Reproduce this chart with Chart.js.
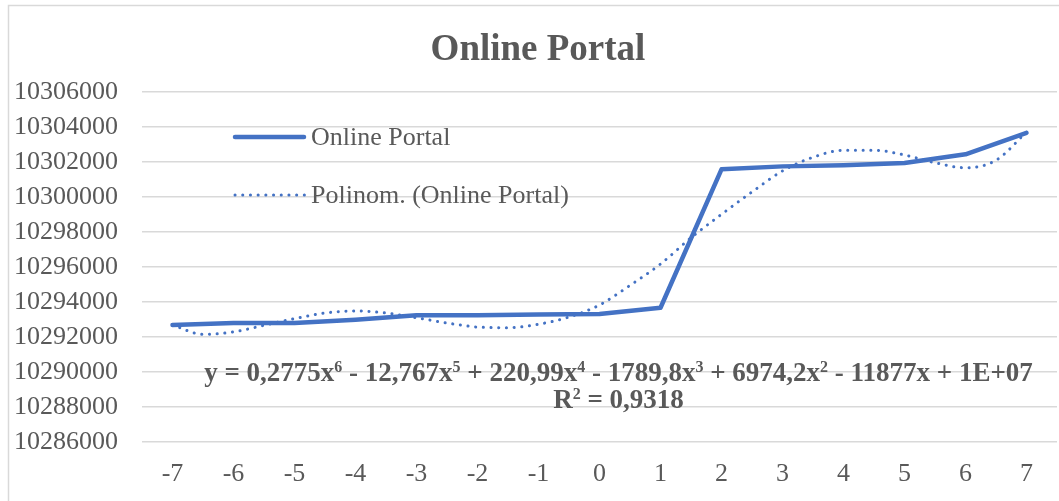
<!DOCTYPE html>
<html>
<head>
<meta charset="utf-8">
<script src="https://cdn.jsdelivr.net/npm/chart.js@4/dist/chart.umd.min.js"></script>
<style>
html,body{margin:0;padding:0;background:#fff;}
#wrap{width:1059px;height:501px;position:relative;}
</style>
</head>
<body>
<div id="wrap"><canvas id="c" width="1059" height="501"></canvas></div>
<script>
// ---- data ----
const categories = ['-7','-6','-5','-4','-3','-2','-1','0','1','2','3','4','5','6','7'];
const portalValues = [10292690, 10292800, 10292800, 10292990, 10293240, 10293250, 10293280, 10293320, 10293670, 10301580, 10301750, 10301810, 10301940, 10302440, 10303670];
const trendX = [-7, -6.5, -6, -5.5, -5, -4.5, -4, -3.5, -3, -2.5, -2, -1.5, -1, -0.5, 0, 0.5, 1, 1.5, 2, 2.5, 3, 3.5, 4, 4.5, 5, 5.5, 6, 6.5, 7];
const trendY = [10292690, 10292150, 10292290, 10292670, 10293050, 10293370, 10293490, 10293370, 10293100, 10292800, 10292570, 10292530, 10292730, 10293140, 10293830, 10294950, 10296170, 10297670, 10299010, 10300290, 10301490, 10302270, 10302670, 10302670, 10302400, 10301960, 10301670, 10302100, 10303710];
const yTicks = [10286000, 10288000, 10290000, 10292000, 10294000, 10296000, 10298000, 10300000, 10302000, 10304000, 10306000];
const chartTitle = 'Online Portal';
const seriesName = 'Online Portal';
const trendName = 'Polinom. (Online Portal)';
const equationParts = [['y = 0,2775x',''],['6','sup'],[' - 12,767x',''],['5','sup'],[' + 220,99x',''],['4','sup'],[' - 1789,8x',''],['3','sup'],[' + 6974,2x',''],['2','sup'],[' - 11877x + 1E+07','']];
const r2Parts = [['R',''],['2','sup'],[' = 0,9318','']];

const BLUE = '#4472C4';
const TXT = '#595959';
const GRID = '#d9d9d9';
const FONT = '"Liberation Serif", "Times New Roman", serif';

const decor = {
  id: 'decor',
  beforeDraw(chart) {
    const ctx = chart.ctx;
    ctx.save();
    ctx.fillStyle = '#fff';
    ctx.fillRect(0, 0, chart.width, chart.height);
    ctx.strokeStyle = GRID;
    ctx.lineWidth = 1.5;
    ctx.strokeRect(8.5, 5.5, 1200, 700);
    ctx.restore();
  },
  afterDraw(chart) {
    const ctx = chart.ctx;
    ctx.save();
    // title
    ctx.fillStyle = TXT;
    ctx.font = 'bold 37px ' + FONT;
    ctx.textAlign = 'center';
    ctx.textBaseline = 'alphabetic';
    ctx.fillText(chartTitle, 538, 60);
    // legend
    ctx.strokeStyle = BLUE;
    ctx.lineCap = 'round';
    ctx.lineWidth = 4.5;
    ctx.beginPath(); ctx.moveTo(235, 137); ctx.lineTo(304, 137); ctx.stroke();
    ctx.lineWidth = 3;
    ctx.setLineDash([0.1, 7.6]);
    ctx.beginPath(); ctx.moveTo(235, 195); ctx.lineTo(305, 195); ctx.stroke();
    ctx.setLineDash([]);
    ctx.font = '26px ' + FONT;
    ctx.textAlign = 'left';
    ctx.textBaseline = 'middle';
    ctx.fillText(seriesName, 311, 138);
    ctx.fillText(trendName, 311, 196);
    // equation
    drawRich(ctx, equationParts, 618.5, 381, 27);
    drawRich(ctx, r2Parts, 618.5, 408, 27);
    ctx.restore();
  }
};

function drawRich(ctx, parts, cx, baseY, size) {
  const big = 'bold ' + size + 'px ' + FONT;
  const small = 'bold ' + Math.round(size * 0.6) + 'px ' + FONT;
  let total = 0;
  const widths = parts.map(p => { ctx.font = p[1] === 'sup' ? small : big; const w = ctx.measureText(p[0]).width; total += w; return w; });
  let x = cx - total / 2;
  ctx.textAlign = 'left';
  ctx.textBaseline = 'alphabetic';
  ctx.fillStyle = TXT;
  parts.forEach((p, i) => {
    ctx.font = p[1] === 'sup' ? small : big;
    ctx.fillText(p[0], x, p[1] === 'sup' ? baseY - size * 0.32 : baseY);
    x += widths[i];
  });
}

new Chart(document.getElementById('c'), {
  type: 'line',
  data: {
    labels: categories,
    datasets: [
      {
        label: seriesName,
        data: portalValues,
        xAxisID: 'x',
        borderColor: BLUE,
        backgroundColor: BLUE,
        borderWidth: 4.5,
        pointRadius: 0,
        tension: 0,
        borderJoinStyle: 'round',
        borderCapStyle: 'round',
        order: 2
      },
      {
        label: trendName,
        data: trendX.map((x, i) => ({x: x, y: trendY[i]})),
        xAxisID: 'x2',
        borderColor: BLUE,
        borderWidth: 3,
        borderDash: [0.1, 7.6],
        borderCapStyle: 'round',
        pointRadius: 0,
        tension: 0.4,
        cubicInterpolationMode: 'monotone',
        order: 1
      }
    ]
  },
  options: {
    responsive: false,
    animation: false,
    layout: { padding: { top: 92, right: 2, left: 0, bottom: 0 } },
    plugins: { legend: { display: false }, title: { display: false }, tooltip: { enabled: false } },
    scales: {
      x: {
        type: 'category',
        offset: true,
        grid: { display: false },
        border: { display: false },
        ticks: { color: TXT, font: { family: FONT, size: 26 }, padding: 9, maxRotation: 0 },
        afterFit(s) { s.height = 59; }
      },
      x2: {
        type: 'linear',
        display: false,
        min: -7.5,
        max: 7.5
      },
      y: {
        min: yTicks[0],
        max: yTicks[yTicks.length - 1],
        afterBuildTicks(s) { s.ticks = yTicks.map(v => ({value: v})); },
        grid: { color: GRID, lineWidth: 1.5, drawTicks: false },
        border: { display: false },
        ticks: { color: TXT, font: { family: FONT, size: 26 }, padding: 24, callback: v => String(v) },
        afterFit(s) { s.width = 142; }
      }
    }
  },
  plugins: [decor]
});
</script>
</body>
</html>
